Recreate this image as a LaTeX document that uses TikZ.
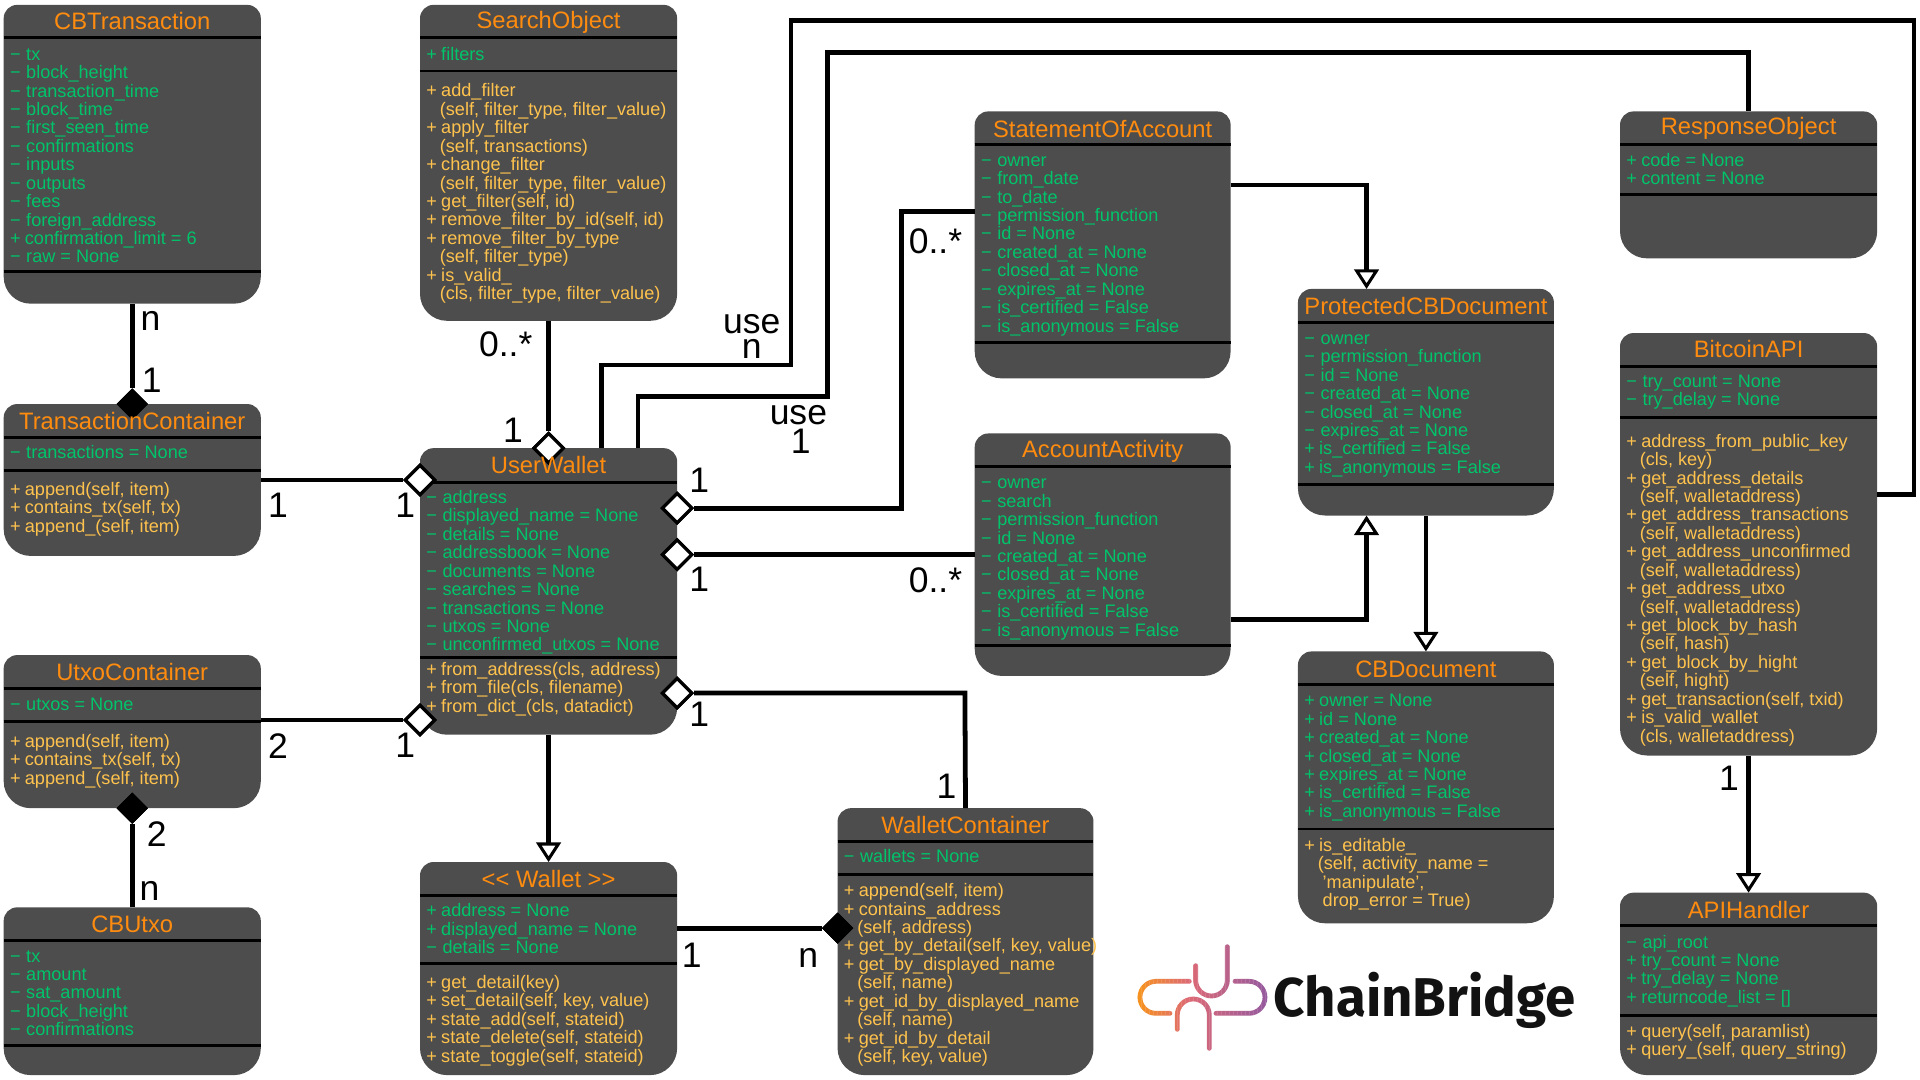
\documentclass[tikz,border=0pt]{standalone}
\usepackage{fontspec}
\usetikzlibrary{arrows.meta,fit,shapes.geometric,calc}
\setmainfont{Liberation Sans}
\newfontfamily\logofont{Fira Sans}
\definecolor{boxgrey}{HTML}{4D4D4D}
\definecolor{titleor}{HTML}{FF8C0F}
\definecolor{attrgreen}{HTML}{00C46A}
\definecolor{methyel}{HTML}{FFC34D}
\newcommand{\ind}{\hspace*{11pt}}
\newcommand{\mm}{−\hspace{4.6pt}}
\newcommand{\pp}{+\hspace{3.5pt}}
\newcommand{\firstrule}{\rule{0pt}{11.5pt}}
\tikzset{
  x=1pt,y=-1pt,
  boxnode/.style={inner sep=0pt,outer sep=0pt,draw=none},
  titletext/.style={inner sep=0pt,text=titleor,font=\fontsize{19.4}{22}\selectfont,anchor=base},
  attrtext/.style={inner sep=0pt,text=attrgreen,align=left,anchor=north west,font=\fontsize{14.8}{15.05}\selectfont},
  methtext/.style={attrtext,text=methyel},
  conn/.style={draw=black,line width=3.9pt,line join=miter},
  arrowconn/.style={conn,-{Triangle[open,fill=white,length=16pt,width=20pt,line width=2.5pt]}},
  dopen/.style={diamond,draw=black,fill=white,line width=2.6pt,minimum width=25pt,minimum height=25pt,inner sep=0pt,aspect=1},
  dfull/.style={diamond,draw=black,fill=black,line width=0.5pt,minimum width=25pt,minimum height=25pt,inner sep=0pt,aspect=1},
  mult/.style={inner sep=0pt,text=black,font=\fontsize{29}{32}\selectfont},
  logostroke/.style={line width=3.9pt,line cap=round,rounded corners=13pt},
}
% name x1 y1 x2 y2 sep1 sep2
\newcommand{\umlshape}[7]{%
  \pgfmathsetmacro\ymid{(#3+#5)/2}%
  \fill[boxgrey,rounded corners=11pt] (#2,\ymid) -- (#2,#3) -- (#4,#3) -- (#4,\ymid)
     [rounded corners=22pt] -- (#4,#5) -- (#2,#5) -- cycle;
  \draw[black,line width=2.4pt] (#2,#6) -- (#4,#6) (#2,#7) -- (#4,#7);
  \node[boxnode,fit={(#2,#3)(#4,#5)}] (#1) {};
}
% name title titlebase attrbase attrs methbase meths
\newcommand{\umltext}[7]{%
  \path (#1.west) ++(5,0) coordinate (#1-left);
  \node[titletext] (#1-title) at (#1.north |- 0,#3) {#2};
  \pgfmathsetmacro\tba{#4-12}%
  \node[attrtext] (#1-attrs) at (#1-left |- 0,\tba) {\firstrule #5};
  \if\relax\detokenize{#7}\relax\else
    \pgfmathsetmacro\tbm{#6-12}%
    \node[methtext] (#1-meths) at (#1-left |- 0,\tbm) {\firstrule #7};
  \fi
}
\begin{document}
\begin{tikzpicture}
\useasboundingbox (0,0) rectangle (1568,882);
\umlshape{cbt}{3}{4}{213}{248}{31}{222}
\umlshape{search}{343}{4}{553}{262}{31}{58}
\umlshape{txc}{3}{330}{213}{454}{357}{384}
\umlshape{uw}{343}{366}{553}{600}{394}{537}
\umlshape{utc}{3}{535}{213}{660}{562}{589}
\umlshape{utxo}{3}{741}{213}{878}{768}{854}
\umlshape{wallet}{343}{704}{553}{878}{731}{787}
\umlshape{wc}{684}{660}{893}{878}{687}{714}
\umlshape{soa}{796}{91}{1005}{309}{118}{280}
\umlshape{aa}{796}{354}{1005}{552}{381}{527}
\umlshape{pcd}{1060}{236}{1269}{421}{263}{396}
\umlshape{cbd}{1060}{532}{1269}{754}{559}{677}
\umlshape{resp}{1323}{91}{1533}{211}{118}{159}
\umlshape{btc}{1323}{272}{1533}{617}{299}{341}
\umlshape{api}{1323}{729}{1533}{878}{756}{829}

% diamonds
\node[dfull] (d-txc) at (108,330) {};
\node[dfull] (d-utc) at (108,660) {};
\node[dfull] (d-wc) at (684,758) {};
\node[dopen] (d-uwn) at (448,366) {};
\node[dopen] (d-uwa) at (343,392) {};
\node[dopen] (d-uwb) at (343,588) {};
\node[dopen] (d-uwc) at (553,415) {};
\node[dopen] (d-uwd) at (553,453) {};
\node[dopen] (d-uwe) at (553,566) {};

% connectors
\coordinate (c-uw1) at (491,366);
\coordinate (c-uw2) at (521,366);
\draw[conn] (cbt.south) -- (d-txc.north);
\draw[conn] (utxo.north) -- (d-utc.south);
\draw[conn] (search.south) -- (d-uwn.north);
\draw[conn] (txc.east |- d-uwa) -- (d-uwa.west);
\draw[conn] (utc.east |- d-uwb) -- (d-uwb.west);
\draw[conn] (wallet.east |- d-wc) -- (d-wc.west);
\draw[arrowconn] (uw.south) -- (wallet.north);
\draw[conn] (d-uwd.east) -- (aa.west |- d-uwd);
\draw[conn] (d-uwc.east) -- (736,415) -- (736,173) -- (soa.west |- 0,173);
\draw[conn] (d-uwe.east) -- (788,566) -- (wc.north);
\draw[arrowconn] (soa.east |- 0,151) -- (1116,151) -- (pcd.north -| 1116,0);
\draw[arrowconn] (aa.east |- 0,506) -- (1116,506) -- (pcd.south -| 1116,0);
\draw[arrowconn] (pcd.south) -- (cbd.north);
\draw[arrowconn] (btc.south) -- (api.north);
\draw[conn] (c-uw1) -- (491,298) -- (646,298) -- (646,17) -- (1563,17) -- (1563,404) -- (btc.east |- 0,404);
\draw[conn] (c-uw2) -- (521,324) -- (676,324) -- (676,43) -- (1428,43) -- (resp.north);
% redraw diamonds over the lines
\node[dfull] at (d-txc) {};
\node[dfull] at (d-utc) {};
\node[dfull] at (d-wc) {};
\node[dopen] at (d-uwn) {};
\node[dopen] at (d-uwa) {};
\node[dopen] at (d-uwb) {};
\node[dopen] at (d-uwc) {};
\node[dopen] at (d-uwd) {};
\node[dopen] at (d-uwe) {};

% texts
\umltext{cbt}{CBTransaction}{24.5}{49.5}{\mm tx\\\mm block\_height\\\mm transaction\_time\\\mm block\_time\\\mm first\_seen\_time\\\mm confirmations\\\mm inputs\\\mm outputs\\\mm fees\\\mm foreign\_address\\\pp confirmation\_limit = 6\\\mm raw = None}{0}{}
\umltext{search}{SearchObject}{23}{49.5}{\pp filters}{79.5}{\pp add\_filter\\\ind (self, filter\_type, filter\_value)\\\pp apply\_filter\\\ind (self, transactions)\\\pp change\_filter\\\ind (self, filter\_type, filter\_value)\\\pp get\_filter(self, id)\\\pp remove\_filter\_by\_id(self, id)\\\pp remove\_filter\_by\_type\\\ind (self, filter\_type)\\\pp is\_valid\_\\\ind (cls, filter\_type, filter\_value)}
\umltext{txc}{TransactionContainer}{350.5}{375}{\mm transactions = None}{405}{\pp append(self, item)\\\pp contains\_tx(self, tx)\\\pp append\_(self, item)}
\umltext{uw}{UserWallet}{387}{411.5}{\mm address\\\mm displayed\_name = None\\\mm details = None\\\mm addressbook = None\\\mm documents = None\\\mm searches = None\\\mm transactions = None\\\mm utxos = None\\\mm unconfirmed\_utxos = None}{552}{\pp from\_address(cls, address)\\\pp from\_file(cls, filename)\\\pp from\_dict\_(cls, datadict)}
\umltext{utc}{UtxoContainer}{556}{580.5}{\mm utxos = None}{610.5}{\pp append(self, item)\\\pp contains\_tx(self, tx)\\\pp append\_(self, item)}
\umltext{utxo}{CBUtxo}{761.5}{786}{\mm tx\\\mm amount\\\mm sat\_amount\\\mm block\_height\\\mm confirmations}{0}{}
\umltext{wallet}{{<}{<} Wallet {>}{>}}{725}{749}{\pp address = None\\\pp displayed\_name = None\\\mm details = None}{807.5}{\pp get\_detail(key)\\\pp set\_detail(self, key, value)\\\pp state\_add(self, stateid)\\\pp state\_delete(self, stateid)\\\pp state\_toggle(self, stateid)}
\umltext{wc}{WalletContainer}{680.5}{705}{\mm wallets = None}{732.5}{\pp append(self, item)\\\pp contains\_address\\\ind (self, address)\\\pp get\_by\_detail(self, key, value)\\\pp get\_by\_displayed\_name\\\ind (self, name)\\\pp get\_id\_by\_displayed\_name\\\ind (self, name)\\\pp get\_id\_by\_detail\\\ind (self, key, value)}
\umltext{soa}{StatementOfAccount}{112}{136}{\mm owner\\\mm from\_date\\\mm to\_date\\\mm permission\_function\\\mm id = None\\\mm created\_at = None\\\mm closed\_at = None\\\mm expires\_at = None\\\mm is\_certified = False\\\mm is\_anonymous = False}{0}{}
\umltext{aa}{AccountActivity}{374}{399.5}{\mm owner\\\mm search\\\mm permission\_function\\\mm id = None\\\mm created\_at = None\\\mm closed\_at = None\\\mm expires\_at = None\\\mm is\_certified = False\\\mm is\_anonymous = False}{0}{}
\umltext{pcd}{ProtectedCBDocument}{257}{281.5}{\mm owner\\\mm permission\_function\\\mm id = None\\\mm created\_at = None\\\mm closed\_at = None\\\mm expires\_at = None\\\pp is\_certified = False\\\pp is\_anonymous = False}{0}{}
\umltext{cbd}{CBDocument}{553}{577.5}{\pp owner = None\\\pp id = None\\\pp created\_at = None\\\pp closed\_at = None\\\pp expires\_at = None\\\pp is\_certified = False\\\pp is\_anonymous = False}{695.5}{\pp is\_editable\_\\\ind (self, activity\_name =\\\ind\hspace{4pt}'manipulate',\\\ind\hspace{4pt}drop\_error = True)}
\umltext{resp}{ResponseObject}{110}{136}{\pp code = None\\\pp content = None}{0}{}
\umltext{btc}{BitcoinAPI}{292}{316.5}{\mm try\_count = None\\\mm try\_delay = None}{365.5}{\pp address\_from\_public\_key\\\ind (cls, key)\\\pp get\_address\_details\\\ind (self, walletaddress)\\\pp get\_address\_transactions\\\ind (self, walletaddress)\\\pp get\_address\_unconfirmed\\\ind (self, walletaddress)\\\pp get\_address\_utxo\\\ind (self, walletaddress)\\\pp get\_block\_by\_hash\\\ind (self, hash)\\\pp get\_block\_by\_hight\\\ind (self, hight)\\\pp get\_transaction(self, txid)\\\pp is\_valid\_wallet\\\ind (cls, walletaddress)}
\umltext{api}{APIHandler}{750.5}{774.5}{\mm api\_root\\\pp try\_count = None\\\pp try\_delay = None\\\pp returncode\_list = []}{847.5}{\pp query(self, paramlist)\\\pp query\_(self, query\_string)}

% multiplicities
\node[mult] (m1) at (123,262) {n};
\node[mult] (m2) at (124,310.5) {1};
\node[mult] (m3) at (413,281) {0..*};
\node[mult] (m4) at (419,351.5) {1};
\node[mult] (m5) at (614,265) {use};
\node[mult] (m6) at (614,285) {n};
\node[mult] (m7) at (652,339) {use};
\node[mult] (m8) at (654,360) {1};
\node[mult] (m9) at (764,197) {0..*};
\node[mult] (m10) at (571,392) {1};
\node[mult] (m11) at (571,473) {1};
\node[mult] (m12) at (764,474) {0..*};
\node[mult] (m13) at (227,413) {1};
\node[mult] (m14) at (331,413) {1};
\node[mult] (m15) at (227,609) {2};
\node[mult] (m16) at (331,609) {1};
\node[mult] (m17) at (128,681) {2};
\node[mult] (m18) at (122,728) {n};
\node[mult] (m19) at (571,583) {1};
\node[mult] (m20) at (773,642) {1};
\node[mult] (m21) at (565,780) {1};
\node[mult] (m22) at (660,782) {n};
\node[mult] (m23) at (1412,636) {1};

% logo
\begin{scope}[shift={(898.3,735)},x=0.2722pt,y=-0.2722pt]
\foreach \sx in {100,112,...,512}{
  \pgfmathsetmacro\tt{min(max((\sx+6-115)/385,0),1)}
  \pgfmathtruncatemacro\rr{\tt<0.4 ? 247+(221-247)*\tt/0.4 : 221+(150-221)*(\tt-0.4)/0.6}
  \pgfmathtruncatemacro\gg{\tt<0.4 ? 147+(106-147)*\tt/0.4 : 106+(90-106)*(\tt-0.4)/0.6}
  \pgfmathtruncatemacro\bb{\tt<0.4 ? 30+(118-30)*\tt/0.4 : 118+(158-118)*(\tt-0.4)/0.6}
  \definecolor{logoc}{RGB}{\rr,\gg,\bb}
  \begin{scope}
    \clip (\sx,100) rectangle ({\sx+13},480);
    \draw[logostroke,logoc] (268,244) -- (120,244) -- (120,340) -- (210,340);
    \draw[logostroke,logoc] (287,197) -- (287,288) -- (382,288) -- (382,140);
    \draw[logostroke,logoc] (232,388) -- (232,297) -- (328,297) -- (328,445);
    \draw[logostroke,logoc] (405,244) -- (495,244) -- (495,340) -- (348,340);
  \end{scope}
}
\end{scope}
\node[inner sep=0pt,anchor=base west,text=black!93,font=\logofont\bfseries\fontsize{44.6}{48}\selectfont] (logotext) at (1040,830) {ChainBridge};
\end{tikzpicture}
\end{document}
